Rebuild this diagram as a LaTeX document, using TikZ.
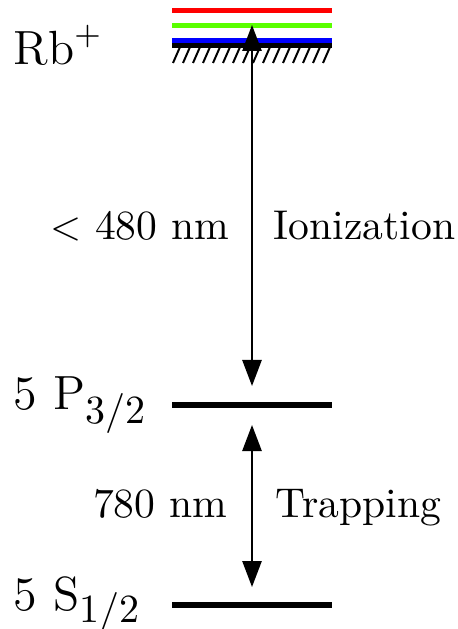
\documentclass[tikz,border=0pt]{standalone}
\usetikzlibrary{arrows.meta}
\definecolor{lvred}{RGB}{255,0,0}
\definecolor{lvgreen}{RGB}{90,255,0}
\definecolor{lvblue}{RGB}{0,0,255}
\begin{document}
\begin{tikzpicture}[x=0.25pt,y=-0.25pt,
  level/.style={line width=1.4pt},
  clevel/.style={line width=1.25pt},
  hatch/.style={line width=0.5pt},
  trans/.style={line width=0.5pt,{Triangle[length=6.5pt,width=4.8pt]}-{Triangle[length=6.5pt,width=4.8pt]}},
  lbl/.style={inner sep=0pt},
  mid/.style={inner sep=0pt,font=\fontsize{10.4}{12}\selectfont}]
\useasboundingbox (0,0) rectangle (458,629);
% levels
\draw[clevel,lvred] (172,10.5) -- (332,10.5);
\draw[clevel,lvgreen] (172,25.5) -- (332,25.5);
\draw[clevel,lvblue] (172,40.5) -- (332,40.5);
\draw[level] (172,45.5) -- (332,45.5);
\foreach \i in {0,...,15}
  \draw[hatch] (173+10*\i,63) -- (180+10*\i,47);
\draw[level] (172,405) -- (332,405);
\draw[level] (172,605) -- (332,605);
% transition endpoints
\coordinate (ionTop) at (252,25);
\coordinate (ionBot) at (252,386);
\coordinate (trTop) at (252,425);
\coordinate (trBot) at (252,587);
\draw[trans] (ionBot) -- (ionTop);
\draw[trans] (trTop) -- (trBot);
% labels
\node[lbl,anchor=base west] (rb) at (13,65) {\large $\mathrm{Rb}^+$};
\node[lbl,anchor=base west] (p32) at (13,410) {\large 5\hspace{4pt}P\raisebox{-3.5pt}{\normalsize 3/2}};
\node[lbl,anchor=base west] (s12) at (13,610) {\large 5\hspace{4pt}S\raisebox{-3pt}{\normalsize 1/2}};
\node[mid,anchor=base east] (ionwl) at (230,240) {$<$ 480 nm};
\node[mid,anchor=base west] (ion) at (273,240) {Ionization};
\node[mid,anchor=base east] (trwl) at (228,517) {780 nm};
\node[mid,anchor=base west] (tr) at (275,517) {Trapping};
\end{tikzpicture}
\end{document}
